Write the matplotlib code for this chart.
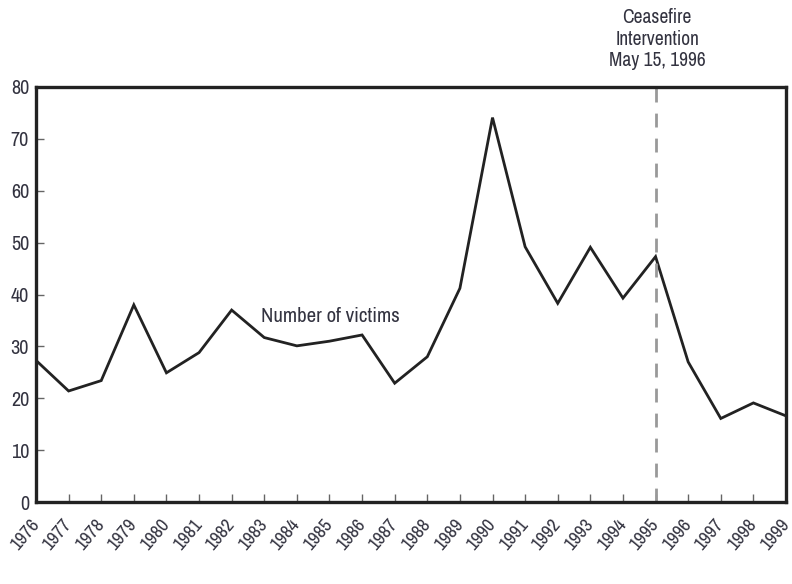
import matplotlib
matplotlib.use("Agg")
import matplotlib.pyplot as plt

# data
years = list(range(1976, 2000))
victims = [27.3, 21.4, 23.4, 38.0, 24.9, 28.8, 37.0, 31.7, 30.1, 31.0, 32.2, 22.9,
           28.0, 41.2, 74.1, 49.2, 38.3, 49.1, 39.3, 47.3, 27.0, 16.1, 19.1, 16.6]
intervention_year = 1995
intervention_label = "Ceasefire\nIntervention\nMay 15, 1996"
series_label = "Number of victims"

# narrow face like the original, DejaVu as fallback
plt.rcParams["font.family"] = ["Archivo Narrow", "DejaVu Sans"]
txt = "#333340"

fig = plt.figure(figsize=(7.92, 5.84), dpi=100)
ax = fig.add_axes([36 / 792, 82 / 584, 750 / 792, 415 / 584])

ax.plot(years, victims, color="#222222", lw=2.0, solid_joinstyle="miter")
ax.axvline(intervention_year, color="#999999", lw=2.0, dashes=(5, 4))

ax.set_xlim(1976, 1999)
ax.set_ylim(0, 80)
ax.set_xticks(years)
ax.set_xticklabels([str(y) for y in years], rotation=50, ha="right", va="center",
                   rotation_mode="anchor", fontsize=13.5, color=txt)
ax.set_yticks(range(0, 81, 10))
ax.tick_params(axis="y", labelsize=14.5, labelcolor=txt, pad=5)
ax.tick_params(direction="in", length=6, width=1, color="#666666")
ax.tick_params(axis="x", pad=14)
for s in ax.spines.values():
    s.set_linewidth(2.4)
    s.set_color("#222222")

ax.text(1982.9, 35.8, series_label, fontsize=15, color=txt, va="center", ha="left")
ax.text(1995.05, 83.3, intervention_label, fontsize=14, color=txt,
        ha="center", va="bottom", linespacing=1.15, clip_on=False)

fig.savefig("out.png", dpi=100)
